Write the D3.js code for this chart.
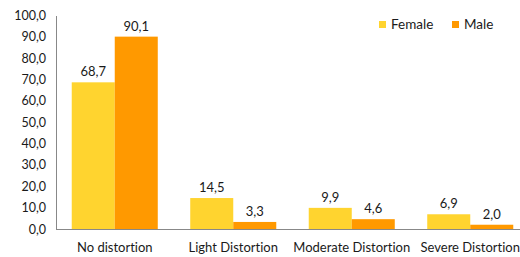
<!DOCTYPE html>
<html>
<head>
<meta charset="utf-8">
<script src="https://cdn.jsdelivr.net/npm/d3@7"></script>
<style>
  body { margin: 0; background: #fff; }
  text { font-family: Lato, "Open Sans", sans-serif; fill: #1a1a1a; font-variant-ligatures: none; }
</style>
</head>
<body>
<svg id="chart" width="520" height="257"></svg>
<script>
// data
var categories = ["No distortion", "Light Distortion", "Moderate Distortion", "Severe Distortion"];
var seriesNames = ["Female", "Male"];
var female = [68.7, 14.5, 9.9, 6.9];
var male = [90.1, 3.3, 4.6, 2.0];
var yTicks = [0, 10, 20, 30, 40, 50, 60, 70, 80, 90, 100];
var colors = ["#FFD42F", "#FF9900"];

var svg = d3.select("#chart");

var x = d3.scaleBand().domain(categories).range([55.5, 529.5]).paddingInner(0.274).paddingOuter(0.137);
var xs = d3.scaleBand().domain(seriesNames).range([0, x.bandwidth()]);
var y = d3.scaleLinear().domain([0, 100]).range([229, 15.5]);

var fmt = function(v){ return d3.format(".1f")(v).replace(".", ","); };

// y axis
var yAxis = d3.axisLeft(y).tickValues(yTicks).tickFormat(fmt).tickSize(0).tickPadding(10);
var gy = svg.append("g").attr("transform", "translate(56,0)").call(yAxis);
gy.select(".domain").attr("stroke", "#888");
gy.selectAll("text").style("font-size", "12.5px").style("font-family", "Lato, sans-serif").attr("fill", "#1a1a1a");

var rows = categories.map(function(c, i){ return {cat: c, vals: [female[i], male[i]]}; });

var g = svg.selectAll("g.cat").data(rows).enter().append("g")
  .attr("class", "cat")
  .attr("transform", function(d){ return "translate(" + x(d.cat) + ",0)"; });

g.selectAll("rect").data(function(d){ return d.vals.map(function(v, j){ return {s: seriesNames[j], v: v, j: j}; }); })
  .enter().append("rect")
  .attr("x", function(d){ return xs(d.s); })
  .attr("width", xs.bandwidth())
  .attr("y", function(d){ return y(d.v); })
  .attr("height", function(d){ return y(0) - y(d.v); })
  .attr("fill", function(d){ return colors[d.j]; });

g.selectAll("text.val").data(function(d){ return d.vals.map(function(v, j){ return {s: seriesNames[j], v: v}; }); })
  .enter().append("text")
  .attr("class", "val")
  .attr("x", function(d){ return xs(d.s) + xs.bandwidth() / 2; })
  .attr("y", function(d){ return y(d.v) - 6; })
  .attr("text-anchor", "middle")
  .style("font-size", "13px")
  .text(function(d){ return fmt(d.v); });

// x axis line + labels
svg.append("line").attr("x1", 56).attr("x2", 520).attr("y1", y(0) + 0.5).attr("y2", y(0) + 0.5).attr("stroke", "#888");
svg.selectAll("text.cat").data(categories).enter().append("text")
  .attr("class", "cat")
  .attr("x", function(d){ return x(d) + x.bandwidth() / 2; })
  .attr("y", 252)
  .attr("text-anchor", "middle")
  .style("font-size", "13px")
  .text(function(d){ return d; });

// legend
var legX = [379, 452];
var lg = svg.selectAll("g.leg").data(seriesNames).enter().append("g")
  .attr("class", "leg")
  .attr("transform", function(d, i){ return "translate(" + legX[i] + ",21)"; });
lg.append("rect").attr("width", 7).attr("height", 7).attr("fill", function(d, i){ return colors[i]; });
lg.append("text").attr("x", 12).attr("y", 8).style("font-size", "13.5px").text(function(d){ return d; });
</script>
</body>
</html>
